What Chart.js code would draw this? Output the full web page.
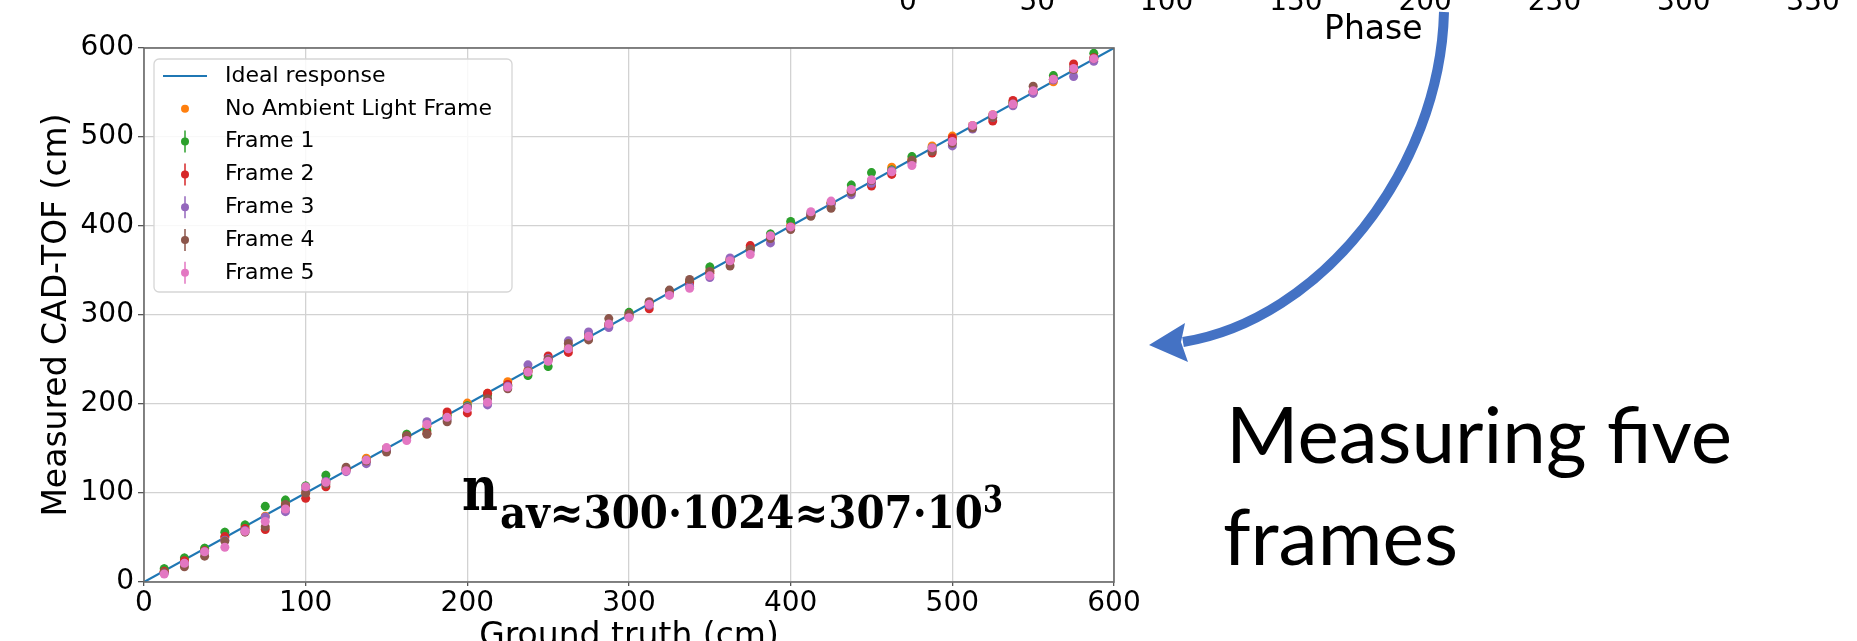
<!DOCTYPE html>
<html><head><meta charset="utf-8">
<script src="https://cdn.jsdelivr.net/npm/chart.js@4.4.1/dist/chart.umd.min.js"></script>
<style>
html,body{margin:0;padding:0;width:1857px;height:641px;overflow:hidden;background:#fff;}
#wrap{position:absolute;left:0;top:0;width:1857px;height:700px;}
#deco{position:absolute;left:0;top:0;pointer-events:none;}
</style></head><body>
<div id="wrap"><canvas id="c" width="1857" height="700"></canvas></div>
<svg id="deco" width="1857" height="641" xmlns="http://www.w3.org/2000/svg">
  <g id="phaseTicks" font-family="DejaVu Sans" font-size="28" fill="#000" text-anchor="middle"></g>
  <text x="1324" y="39" font-family="DejaVu Sans" font-size="33" fill="#000">Phase</text>
  <path d="M1444,12 C1440,170 1320,320 1183,342" fill="none" stroke="#4472C4" stroke-width="10"/>
  <polygon points="1149,345 1185,323 1181,342 1188,362" fill="#4472C4"/>
  <g font-family="DejaVu Serif" font-weight="bold" fill="#000">
    <text x="462" y="510" font-size="62" textLength="36" lengthAdjust="spacingAndGlyphs">n</text>
    <text x="500" y="528" font-size="44" textLength="483" lengthAdjust="spacingAndGlyphs">av≈300·1024≈307·10</text>
    <text x="983" y="512" font-size="37" textLength="20" lengthAdjust="spacingAndGlyphs">3</text>
  </g>
  <g font-family="Lato" font-size="77" fill="#000">
    <text x="1226" y="463" textLength="506" lengthAdjust="spacingAndGlyphs">Measuring five</text>
    <text x="1223" y="565" textLength="235" lengthAdjust="spacingAndGlyphs">frames</text>
  </g>
</svg>
<script>
// ---- data ----
const groundTruth = [12.5, 25, 37.5, 50, 62.5, 75, 87.5, 100, 112.5, 125, 137.5, 150, 162.5, 175, 187.5, 200,
  212.5, 225, 237.5, 250, 262.5, 275, 287.5, 300, 312.5, 325, 337.5, 350, 362.5, 375, 387.5, 400,
  412.5, 425, 437.5, 450, 462.5, 475, 487.5, 500, 512.5, 525, 537.5, 550, 562.5, 575, 587.5];
const idealX = [0, 600];
const idealY = [0, 600];
const noAmbient = [12, 25, 37, 50, 62, 74, 88, 100, 113, 126, 139, 150, 163, 175, 188, 201,
  212, 225, 238, 250, 263, 275, 288, 300, 313, 326, 338, 350, 363, 376, 389, 401,
  413, 426, 439, 450, 466, 475, 490, 501, 513, 525, 538, 550, 562, 575, 588];
const frame1 = [15, 27, 38, 56, 64, 85, 92, 108, 120, 127, 137, 150, 166, 170, 187, 198,
  210, 221, 232, 242, 262, 279, 290, 303, 314, 327, 337, 354, 362, 374, 391, 405,
  414, 426, 446, 460, 463, 478, 488, 497, 512, 524, 539, 551, 569, 578, 594];
const frame2 = [12, 24, 35, 51, 60, 59, 86, 94, 107, 126, 136, 149, 164, 167, 191, 190,
  212, 222, 236, 254, 258, 276, 289, 299, 307, 325, 336, 347, 361, 378, 388, 399,
  412, 425, 440, 445, 458, 472, 482, 499, 511, 518, 541, 551, 565, 582, 589];
const frame3 = [10, 21, 34, 47, 58, 73, 79, 104, 113, 124, 133, 148, 162, 180, 183, 197,
  199, 220, 244, 251, 271, 281, 286, 298, 311, 323, 332, 342, 364, 372, 381, 397,
  413, 424, 435, 448, 462, 471, 486, 490, 509, 522, 535, 549, 564, 568, 585];
const frame4 = [11, 17, 29, 46, 56, 62, 87, 100, 110, 129, 136, 146, 164, 166, 180, 196,
  206, 217, 237, 250, 268, 272, 296, 301, 315, 328, 340, 349, 355, 374, 386, 396,
  411, 420, 438, 451, 461, 474, 484, 493, 510, 522, 537, 557, 565, 576, 588];
const frame5 = [9, 21, 34, 39, 57, 68, 82, 107, 112, 125, 137, 151, 159, 177, 185, 195,
  202, 219, 236, 248, 262, 276, 290, 297, 312, 322, 330, 344, 361, 368, 389, 399,
  416, 428, 441, 452, 461, 468, 488, 495, 513, 525, 537, 552, 565, 577, 588];
const seriesLabels = ['No Ambient Light Frame', 'Frame 1', 'Frame 2', 'Frame 3', 'Frame 4', 'Frame 5'];
const errHalf = [0, 5, 4, 4, 4, 3];
const idealLabel = 'Ideal response';
const axisTicks = [0, 100, 200, 300, 400, 500, 600];
const phaseTicks = ['0', '50', '100', '150', '200', '250', '300', '350'];

// ---- decorations: cut-off phase ticks at top ----
const g = document.getElementById('phaseTicks');
phaseTicks.forEach((t, i) => {
  const el = document.createElementNS('http://www.w3.org/2000/svg', 'text');
  el.setAttribute('x', 908 + i * 129.3);
  el.setAttribute('y', 10);
  el.textContent = t;
  g.appendChild(el);
});

// ---- chart ----
const colors = ['#ff7f0e', '#2ca02c', '#d62728', '#9467bd', '#8c564b', '#e377c2'];
const seriesValues = [noAmbient, frame1, frame2, frame3, frame4, frame5];
const datasets = [{
  label: idealLabel,
  data: idealX.map((x, i) => ({x: x, y: idealY[i]})),
  showLine: true, borderColor: '#1f77b4', borderWidth: 2.2, pointRadius: 0, fill: false, order: 20
}];
seriesValues.forEach((vals, i) => {
  datasets.push({
    label: seriesLabels[i],
    data: groundTruth.map((x, j) => ({x: x, y: vals[j]})),
    showLine: false, backgroundColor: colors[i], borderColor: colors[i],
    pointRadius: 4.5, pointBorderWidth: 0, pointHoverRadius: 4.5,
    order: 10 - i, errHalf: errHalf[i]
  });
});

const errorBars = {
  id: 'errorBars',
  beforeDatasetDraw(chart, args) {
    const ds = chart.data.datasets[args.index];
    if (!ds.errHalf) return;
    const {ctx} = chart; const xs = chart.scales.x, ys = chart.scales.y;
    ctx.save();
    ctx.strokeStyle = ds.borderColor; ctx.lineWidth = 1.5;
    ds.data.forEach(p => {
      const px = xs.getPixelForValue(p.x);
      ctx.beginPath();
      ctx.moveTo(px, ys.getPixelForValue(p.y - ds.errHalf));
      ctx.lineTo(px, ys.getPixelForValue(p.y + ds.errHalf));
      ctx.stroke();
    });
    ctx.restore();
  }
};

const frame = {
  id: 'frame',
  afterDatasetsDraw(chart) {
    const {ctx, chartArea: a} = chart;
    ctx.save(); ctx.strokeStyle = '#6a6a6a'; ctx.lineWidth = 1.6;
    ctx.strokeRect(a.left, a.top, a.right - a.left, a.bottom - a.top);
    ctx.restore();
  }
};

const mplLegend = {
  id: 'mplLegend',
  afterDraw(chart) {
    const {ctx, chartArea: a} = chart;
    const bx = a.left + 10, by = a.top + 11, bw = 358, bh = 233;
    ctx.save();
    ctx.beginPath();
    if (ctx.roundRect) ctx.roundRect(bx, by, bw, bh, 5); else ctx.rect(bx, by, bw, bh);
    ctx.fillStyle = 'rgba(255,255,255,0.85)'; ctx.fill();
    ctx.strokeStyle = '#d6d6d6'; ctx.lineWidth = 1.3; ctx.stroke();
    ctx.font = '22px "DejaVu Sans"'; ctx.textBaseline = 'middle'; ctx.textAlign = 'left';
    chart.data.datasets.forEach((ds, i) => {
      const cy = by + 17 + i * 32.8;
      const mx = bx + 31;
      if (ds.showLine) {
        ctx.strokeStyle = ds.borderColor; ctx.lineWidth = 2.2;
        ctx.beginPath(); ctx.moveTo(bx + 9, cy); ctx.lineTo(bx + 53, cy); ctx.stroke();
      } else {
        if (ds.errHalf) {
          ctx.strokeStyle = ds.borderColor; ctx.lineWidth = 1.5;
          ctx.beginPath(); ctx.moveTo(mx, cy - 11); ctx.lineTo(mx, cy + 11); ctx.stroke();
        }
        ctx.fillStyle = ds.backgroundColor;
        ctx.beginPath(); ctx.arc(mx, cy, 4, 0, Math.PI * 2); ctx.fill();
      }
      ctx.fillStyle = '#000';
      ctx.fillText(ds.label, bx + 71, cy);
    });
    ctx.restore();
  }
};

const tickFont = {family: 'DejaVu Sans', size: 28};
const titleFont = {family: 'DejaVu Sans', size: 33};
new Chart(document.getElementById('c'), {
  type: 'scatter',
  data: {datasets: datasets},
  options: {
    responsive: false, animation: false, devicePixelRatio: 1,
    layout: {padding: {left: 0, top: 48, right: 743, bottom: 0}},
    plugins: {legend: {display: false}, tooltip: {enabled: false}},
    scales: {
      x: {
        type: 'linear', min: 0, max: 600,
        afterBuildTicks: s => { s.ticks = axisTicks.map(v => ({value: v})); },
        afterFit: s => { s.height = 118; },
        ticks: {font: tickFont, color: '#000', padding: 1, maxRotation: 0, autoSkip: false},
        grid: {color: '#d2d2d2', lineWidth: 1.3, tickLength: 4, tickColor: '#555', tickWidth: 1.3},
        border: {display: false},
        title: {display: true, text: 'Ground truth (cm)', font: titleFont, color: '#000', padding: {top: 0, bottom: 43}}
      },
      y: {
        type: 'linear', min: 0, max: 600,
        afterBuildTicks: s => { s.ticks = axisTicks.map(v => ({value: v})); },
        afterFit: s => { s.width = 144; },
        ticks: {font: tickFont, color: '#000', padding: 4, autoSkip: false},
        grid: {color: '#d2d2d2', lineWidth: 1.3, tickLength: 6, tickColor: '#555', tickWidth: 1.3},
        border: {display: false},
        title: {display: true, text: 'Measured CAD-TOF (cm)', font: titleFont, color: '#000', padding: {top: 38, bottom: 0}}
      }
    }
  },
  plugins: [errorBars, frame, mplLegend]
});
</script>
</body></html>
